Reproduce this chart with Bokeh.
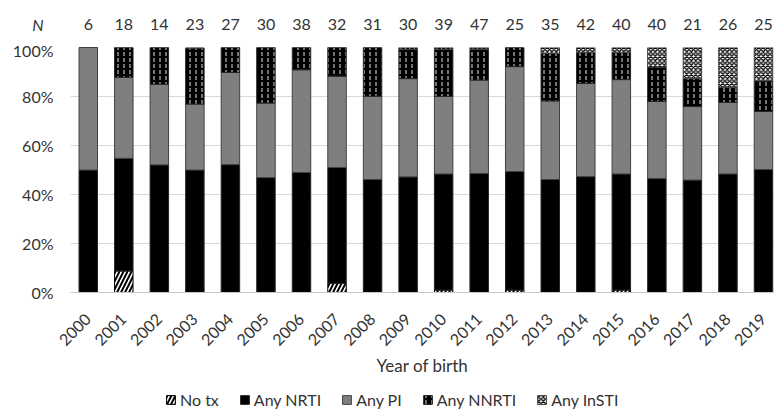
import math
from bokeh.plotting import figure
from bokeh.layouts import column
from bokeh.models import (ColumnDataSource, FixedTicker, Range1d,
                          Legend, LegendItem, PrintfTickFormatter)
from bokeh.core.properties import value
from bokeh.embed import file_html
from bokeh.resources import INLINE

# ---- data (percent of each birth-year cohort) ----
years = ["2000", "2001", "2002", "2003", "2004", "2005", "2006", "2007", "2008", "2009",
         "2010", "2011", "2012", "2013", "2014", "2015", "2016", "2017", "2018", "2019"]
n_counts = [6, 18, 14, 23, 27, 30, 38, 32, 31, 30, 39, 47, 25, 35, 42, 40, 40, 21, 26, 25]
no_tx = [0, 8.8, 0, 0, 0, 0, 0, 3.7, 0, 0, 1.0, 0, 1.0, 0, 0, 1.0, 0, 0, 0, 0]
any_nrti = [50.0, 46.0, 52.1, 50.0, 52.2, 46.9, 49.0, 47.3, 46.1, 47.2,
            47.4, 48.6, 48.4, 46.1, 47.3, 47.4, 46.5, 45.9, 48.4, 50.2]
any_pi = [50.0, 33.0, 32.9, 26.9, 37.6, 30.4, 41.9, 37.3, 34.0, 40.1,
          31.6, 38.1, 42.8, 32.1, 38.0, 38.5, 31.5, 30.0, 29.2, 23.7]
any_nnrti = [0, 12.2, 15.0, 22.9, 10.2, 22.7, 9.1, 11.7, 19.9, 11.9,
             19.2, 12.6, 7.8, 19.4, 12.7, 11.1, 14.0, 11.4, 6.1, 12.5]
any_insti = [0, 0, 0, 0, 0, 0, 0, 0, 0, 0.8,
             0.8, 0.7, 0, 2.4, 2.0, 2.0, 8.0, 12.7, 16.3, 13.6]
categories = ["No tx", "Any NRTI", "Any PI", "Any NNRTI", "Any InSTI"]
y_ticks = [0, 20, 40, 60, 80, 100]
n_header = "N"

keys = ["no_tx", "nrti", "pi", "nnrti", "insti"]
xs = list(range(len(years)))
source = ColumnDataSource(dict(x=xs, no_tx=no_tx, nrti=any_nrti, pi=any_pi,
                               nnrti=any_nnrti, insti=any_insti))

FONT = "Lato"
TXT = "#333333"
X_RANGE = (-0.5, 19.31)

STYLE = dict(
    fill_color=["white", "black", "#7f7f7f", "black", "white"],
    line_color=["black", "#262626", "#404040", "#262626", "#404040"],
    hatch_pattern=["right_diagonal_line", " ", " ", "vertical_dash", "diagonal_cross"],
    hatch_color=["black", "black", "black", "white", "black"],
    hatch_scale=[8, 12, 12, 6, 4.5],
    hatch_weight=[2, 1, 1, 0.9, 1.3],
)


def hide_axis(ax):
    ax.axis_line_color = None
    ax.major_tick_line_color = None
    ax.minor_tick_line_color = None
    ax.major_tick_out = 0
    ax.major_tick_in = 0


# ---- top strip: N per birth year ----
pt = figure(width=774, height=40, output_backend="svg", toolbar_location=None,
            x_axis_type=None, x_range=Range1d(*X_RANGE), y_range=Range1d(0, 1),
            min_border_left=70, min_border_right=0, min_border_top=0, min_border_bottom=0)
pt.outline_line_color = None
pt.xgrid.visible = False
pt.ygrid.visible = False
n_src = ColumnDataSource(dict(x=xs, y=[0.4] * len(xs), t=[str(n) for n in n_counts]))
pt.text(x="x", y="y", text="t", source=n_src, text_font=value(FONT), text_font_size="16px",
        text_color=TXT, text_align="center", text_baseline="middle")
ta = pt.yaxis[0]
ta.ticker = FixedTicker(ticks=[0.4])
ta.major_label_overrides = {0.4: n_header}
hide_axis(ta)
ta.major_label_standoff = 27
ta.major_label_text_font = FONT
ta.major_label_text_font_size = "16px"
ta.major_label_text_font_style = "italic"
ta.major_label_text_color = TXT

# ---- main chart ----
p = figure(width=774, height=347, output_backend="svg", toolbar_location=None,
           x_range=Range1d(*X_RANGE), y_range=Range1d(0, 100),
           min_border_left=70, min_border_right=0, min_border_top=7,
           min_border_bottom=95)
p.outline_line_color = None
p.background_fill_color = "white"

renderers = p.vbar_stack(keys, x="x", width=0.52, source=source, line_width=1, **STYLE)

xa = p.xaxis[0]
xa.ticker = FixedTicker(ticks=xs)
xa.major_label_overrides = {i: y for i, y in enumerate(years)}
xa.major_label_orientation = math.pi / 4
hide_axis(xa)
xa.axis_line_color = "#c8c8c8"
xa.major_label_standoff = 24
xa.major_label_text_font = FONT
xa.major_label_text_font_size = "16px"
xa.major_label_text_color = TXT
xa.axis_label = "Year of birth"
xa.axis_label_text_font = FONT
xa.axis_label_text_font_size = "17px"
xa.axis_label_text_font_style = "normal"
xa.axis_label_text_color = TXT
xa.axis_label_standoff = 1

ya = p.yaxis[0]
ya.ticker = FixedTicker(ticks=y_ticks)
ya.formatter = PrintfTickFormatter(format="%d%%")
hide_axis(ya)
ya.major_label_standoff = 17
ya.major_label_text_font = FONT
ya.major_label_text_font_size = "16px"
ya.major_label_text_color = TXT

p.xgrid.visible = False
p.ygrid.grid_line_color = "#d9d9d9"
p.ygrid.grid_line_width = 1

# ---- legend strip below the chart ----
pl = figure(width=774, height=22, output_backend="svg", toolbar_location=None,
            x_axis_type=None, y_axis_type=None, min_border=0,
            x_range=Range1d(0, 1), y_range=Range1d(0, 1))
pl.outline_line_color = None
pl.xgrid.visible = False
pl.ygrid.visible = False
swatches = []
for i in range(len(categories)):
    # legend proxies: one point outside the visible range so only the swatch shows
    swatches.append(pl.vbar(x=[5], top=[1], width=0.1, line_width=1,
                            **{k: v[i] for k, v in STYLE.items()}))
legend = Legend(items=[LegendItem(label=c, renderers=[r]) for c, r in zip(categories, swatches)],
                orientation="horizontal", location=(95, 0),
                glyph_width=11, glyph_height=11, label_standoff=4, spacing=20,
                padding=1, margin=0, label_height=16,
                border_line_color=None, background_fill_alpha=0,
                label_text_font=FONT, label_text_font_size="16px", label_text_color=TXT)
pl.add_layout(legend, "center")

layout = column(pt, p, pl, spacing=0)
open("out.html", "w").write(file_html(layout, INLINE))
